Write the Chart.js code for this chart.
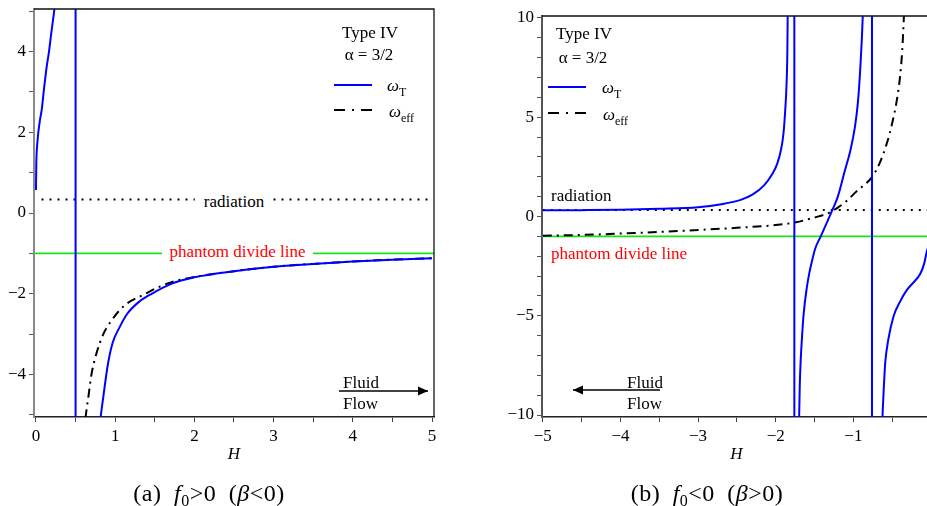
<!DOCTYPE html>
<html><head><meta charset="utf-8">
<script src="https://cdn.jsdelivr.net/npm/chart.js@4.4.1/dist/chart.umd.min.js"></script>
<style>
html,body{margin:0;padding:0;background:#fff;overflow:hidden;width:927px;height:506px;}
#wrap{position:relative;width:927px;height:506px;overflow:hidden;font-family:"Liberation Serif","Times New Roman",serif;color:#000;}
canvas{position:absolute;top:0;}
#ca{left:0;}
#cb{left:480px;}
.t{position:absolute;white-space:nowrap;transform:translate(-50%,-50%);font-size:17px;line-height:1;}
.l{transform:translate(0,-50%);}
.w{background:#fff;}
.red{color:#ff0000;}
sub{font-size:12px;vertical-align:-5px;line-height:0;}
.cap{font-size:24px;letter-spacing:0.5px;}
.cap sub{font-size:16px;vertical-align:-5px;}
</style></head>
<body><div id="wrap">
<canvas id="ca" width="460" height="506"></canvas>
<canvas id="cb" width="480" height="506"></canvas>

<div class="t" style="left:370px;top:32px">Type IV</div>
<div class="t" style="left:369px;top:54px">α = 3/2</div>
<div class="t l" style="left:387px;top:85px"><i>ω</i><sub>T</sub></div>
<div class="t l" style="left:389px;top:111px"><i>ω</i><sub>eff</sub></div>
<div class="t w" style="left:234px;top:201px;padding:1px 9px">radiation</div>
<div class="t w red" style="left:237.5px;top:251px;padding:1px 8px">phantom divide line</div>
<div class="t l" style="left:343px;top:382px">Fluid</div>
<div class="t l" style="left:343px;top:403px">Flow</div>

<div class="t" style="left:584px;top:33px">Type IV</div>
<div class="t" style="left:583px;top:57px">α = 3/2</div>
<div class="t l" style="left:602px;top:87px"><i>ω</i><sub>T</sub></div>
<div class="t l" style="left:603px;top:114px"><i>ω</i><sub>eff</sub></div>
<div class="t l" style="left:551px;top:195px">radiation</div>
<div class="t l red" style="left:551px;top:253px">phantom divide line</div>
<div class="t l" style="left:627px;top:382px">Fluid</div>
<div class="t l" style="left:627px;top:403px">Flow</div>

<div class="t cap" style="left:209px;top:493px">(a)&ensp;<i>f</i><sub>0</sub>&gt;0&ensp;(<i>β</i>&lt;0)</div>
<div class="t cap" style="left:707px;top:493px">(b)&ensp;<i>f</i><sub>0</sub>&lt;0&ensp;(<i>β</i>&gt;0)</div>
</div>
<script>
// ---------- Panel (a): f0 > 0 ----------
const aXTicks = [0,0.5,1,1.5,2,2.5,3,3.5,4,4.5,5];
const aXLabeled = [0,1,2,3,4,5];
const aYTicks = [-5,-4,-3,-2,-1,0,1,2,3,4,5];
const aYLabeled = [-4,-2,0,2,4];

const aH_T1 = [0.0, 0.004, 0.017, 0.03, 0.05, 0.072, 0.1, 0.135, 0.164, 0.198, 0.231, 0.25];
const aW_T1 = [0.57, 1.2, 1.72, 2.0, 2.3, 2.55, 3.05, 3.62, 3.99, 4.53, 5.02, 5.4];
const aPoles = [0.5];
const aH_T2 = [0.80, 0.82, 0.85, 0.91, 0.97, 1.05, 1.15, 1.3, 1.46, 1.7, 2.0, 2.5, 3.0, 3.5, 4.0, 4.5, 5.0];
const aW_T2 = [-5.4, -5.0, -4.55, -3.72, -3.2, -2.85, -2.5, -2.2, -2.0, -1.76, -1.59, -1.44, -1.33, -1.26, -1.2, -1.155, -1.12];
const aH_eff = [0.60, 0.63, 0.665, 0.70, 0.76, 0.85, 0.93, 1.05, 1.15, 1.35, 1.52, 1.73, 2.0, 2.5, 3.0, 3.5, 4.0, 4.5, 5.0];
const aW_eff = [-5.6, -5.0, -4.5, -4.0, -3.5, -3.0, -2.73, -2.42, -2.24, -2.03, -1.86, -1.70, -1.585, -1.44, -1.33, -1.26, -1.2, -1.155, -1.12];

// ---------- Panel (b): f0 < 0 ----------
const bXTicks = [-5,-4.5,-4,-3.5,-3,-2.5,-2,-1.5,-1,-0.5,0];
const bXLabeled = [-5,-4,-3,-2,-1,0];
const bYTicks = [-10,-9,-8,-7,-6,-5,-4,-3,-2,-1,0,1,2,3,4,5,6,7,8,9,10];
const bYLabeled = [-10,-5,0,5,10];

const bH_T1 = [-5.0, -4.5, -4.0, -3.5, -3.0, -2.7, -2.45, -2.3, -2.15, -2.05, -1.98, -1.93, -1.90, -1.88, -1.86, -1.85, -1.845];
const bW_T1 = [0.31, 0.32, 0.34, 0.39, 0.47, 0.62, 0.84, 1.1, 1.57, 2.1, 2.66, 3.4, 4.18, 5.2, 6.7, 8.3, 10.5];
const bPoles = [-1.76, -0.76];
const bH_T2 = [-1.70, -1.69, -1.68, -1.66, -1.64, -1.60, -1.57, -1.53, -1.49, -1.42, -1.34, -1.27, -1.20, -1.11, -1.04, -0.98, -0.94, -0.91, -0.89, -0.875];
const bW_T2 = [-10.5, -8.5, -7.4, -6.0, -4.9, -3.6, -2.9, -2.2, -1.6, -1.0, -0.3, 0.33, 1.0, 2.3, 3.3, 4.5, 5.8, 7.5, 9.0, 10.5];
const bH_T3 = [-0.63, -0.61, -0.59, -0.55, -0.48, -0.40, -0.31, -0.22, -0.14, -0.09, -0.05, -0.02, 0.0];
const bW_T3 = [-10.5, -8.8, -7.4, -6.2, -5.0, -4.3, -3.7, -3.3, -2.9, -2.4, -1.7, -1.4, -1.2];
const bH_eff = [-5.0, -4.5, -4.0, -3.5, -3.0, -2.5, -2.0, -1.74, -1.5, -1.34, -1.2, -1.08, -0.95, -0.85, -0.76, -0.66, -0.57, -0.50, -0.44, -0.40, -0.37, -0.35, -0.34];
const bW_eff = [-0.97, -0.93, -0.86, -0.78, -0.68, -0.57, -0.43, -0.29, -0.05, 0.14, 0.45, 0.81, 1.3, 1.62, 1.98, 2.7, 3.67, 4.7, 5.86, 7.0, 8.4, 10.0, 11.0];

// reference levels
const radiationLevel = 0.333;
const phantomLevel = -1;

const BLUE = '#0000ff', GREEN = '#1fe01f', FONT = 'Liberation Serif';
Chart.defaults.font.family = FONT;
Chart.defaults.color = '#000';

const pts = (xs, ys) => xs.map((x, i) => ({x, y: ys[i]}));
const fmt = v => v < 0 ? '\u2212' + Math.abs(v) : String(v);

function curve(data, color, dash) {
  return {data, borderColor: color, borderWidth: 2, borderDash: dash || [], pointRadius: 0,
          cubicInterpolationMode: 'monotone', fill: false, clip: 0};
}
function hline(x0, x1, y, color, width, dash) {
  return {data: [{x: x0, y}, {x: x1, y}], borderColor: color, borderWidth: width, borderDash: dash || [],
          pointRadius: 0, fill: false, clip: 0};
}
function vline(x, y0, y1) {
  return {data: [{x, y: y0}, {x, y: y1}], borderColor: BLUE, borderWidth: 2, pointRadius: 0, fill: false, clip: 0};
}

const decor = {
  id: 'decor',
  afterDatasetsDraw(chart, args, o) {
    const ctx = chart.ctx, a = chart.chartArea;
    ctx.save();
    ctx.strokeStyle = '#111'; ctx.lineWidth = 1.3; ctx.setLineDash([]);
    ctx.beginPath(); ctx.moveTo(a.left, a.top); ctx.lineTo(a.right, a.top); ctx.lineTo(a.right, a.bottom); ctx.stroke();
    // legend samples
    ctx.lineWidth = 2;
    ctx.strokeStyle = BLUE; ctx.beginPath(); ctx.moveTo(o.lx0, o.ly1); ctx.lineTo(o.lx1, o.ly1); ctx.stroke();
    ctx.strokeStyle = '#000'; ctx.setLineDash([11, 7, 2, 7]);
    ctx.beginPath(); ctx.moveTo(o.lx0, o.ly2); ctx.lineTo(o.lx1, o.ly2); ctx.stroke();
    ctx.setLineDash([]);
    // arrow
    ctx.lineWidth = 1.3; ctx.strokeStyle = '#000'; ctx.fillStyle = '#000';
    ctx.beginPath(); ctx.moveTo(o.ax0, o.ay); ctx.lineTo(o.ax1, o.ay); ctx.stroke();
    const d = o.ax1 > o.ax0 ? 1 : -1;
    ctx.beginPath(); ctx.moveTo(o.ax1, o.ay); ctx.lineTo(o.ax1 - d * 10, o.ay - 4.5); ctx.lineTo(o.ax1 - d * 10, o.ay + 4.5); ctx.closePath(); ctx.fill();
    ctx.restore();
  }
};

function scales(xmin, xmax, xTicks, xLab, ymin, ymax, yTicks, yLab, yWidth, yBorder) {
  return {
    x: {type: 'linear', min: xmin, max: xmax,
        afterBuildTicks: s => { s.ticks = xTicks.map(v => ({value: v})); },
        afterFit: s => { s.height = 89; },
        ticks: {autoSkip: false, maxRotation: 0, padding: 4, font: {size: 17},
                callback: v => xLab.includes(v) ? fmt(v) : ''},
        grid: {drawOnChartArea: false, drawTicks: true, tickLength: 5, color: '#444', lineWidth: 1},
        border: {display: true, color: '#222', width: 1.5},
        title: {display: true, text: 'H', font: {size: 17, style: 'italic'}, padding: {top: 0, bottom: 41}}},
    y: {type: 'linear', min: ymin, max: ymax,
        afterBuildTicks: s => { s.ticks = yTicks.map(v => ({value: v})); },
        afterFit: s => { s.width = yWidth; },
        ticks: {autoSkip: false, padding: 3, font: {size: 17, lineHeight: 0.6},
                callback: v => yLab.includes(v) ? fmt(v) : ''},
        grid: {drawOnChartArea: false, drawTicks: true, tickLength: 5, color: '#555', lineWidth: 1},
        border: {display: true, color: yBorder, width: 2}}
  };
}

const common = {responsive: false, animation: false, devicePixelRatio: 1,
  plugins: {legend: {display: false}, tooltip: {enabled: false}, title: {display: false}}};

new Chart(document.getElementById('ca'), {
  type: 'line',
  data: {datasets: [
    curve(pts(aH_T1, aW_T1), BLUE),
    ...aPoles.map(p => vline(p, 6, -6)),
    curve(pts(aH_T2, aW_T2), BLUE),
    curve(pts(aH_eff, aW_eff), '#000', [9, 5, 2, 5]),
    hline(0.07, 5, radiationLevel, '#000', 2, [2, 6]),
    hline(-0.025, 5.025, phantomLevel, GREEN, 1.6)
  ]},
  options: Object.assign({}, common, {
    layout: {padding: {left: 0, top: 9, right: 26, bottom: 0}},
    scales: scales(-0.025, 5.025, aXTicks, aXLabeled, -5.05, 5.05, aYTicks, aYLabeled, 34, '#8a8a8a'),
    plugins: Object.assign({}, common.plugins, {decor: {lx0: 334, lx1: 372, ly1: 85, ly2: 110, ax0: 339, ax1: 428, ay: 391}})
  }),
  plugins: [decor]
});

new Chart(document.getElementById('cb'), {
  type: 'line',
  data: {datasets: [
    curve(pts(bH_T1, bW_T1), BLUE),
    ...bPoles.map(p => vline(p, 11, -11)),
    curve(pts(bH_T2, bW_T2), BLUE),
    curve(pts(bH_T3, bW_T3), BLUE),
    curve(pts(bH_eff, bW_eff), '#000', [9, 5, 2, 5]),
    hline(-5, 0, radiationLevel, '#000', 2, [2, 6]),
    hline(-5.01, 0, phantomLevel, GREEN, 1.6)
  ]},
  options: Object.assign({}, common, {
    layout: {padding: {left: 0, top: 16, right: 29, bottom: 0}},
    scales: scales(-5.01, 0, bXTicks, bXLabeled, -10.1, 10.1, bYTicks, bYLabeled, 62, '#555'),
    plugins: Object.assign({}, common.plugins, {decor: {lx0: 68, lx1: 106, ly1: 87, ly2: 113, ax0: 180, ax1: 93, ay: 390}})
  }),
  plugins: [decor]
});
</script>
</body></html>
